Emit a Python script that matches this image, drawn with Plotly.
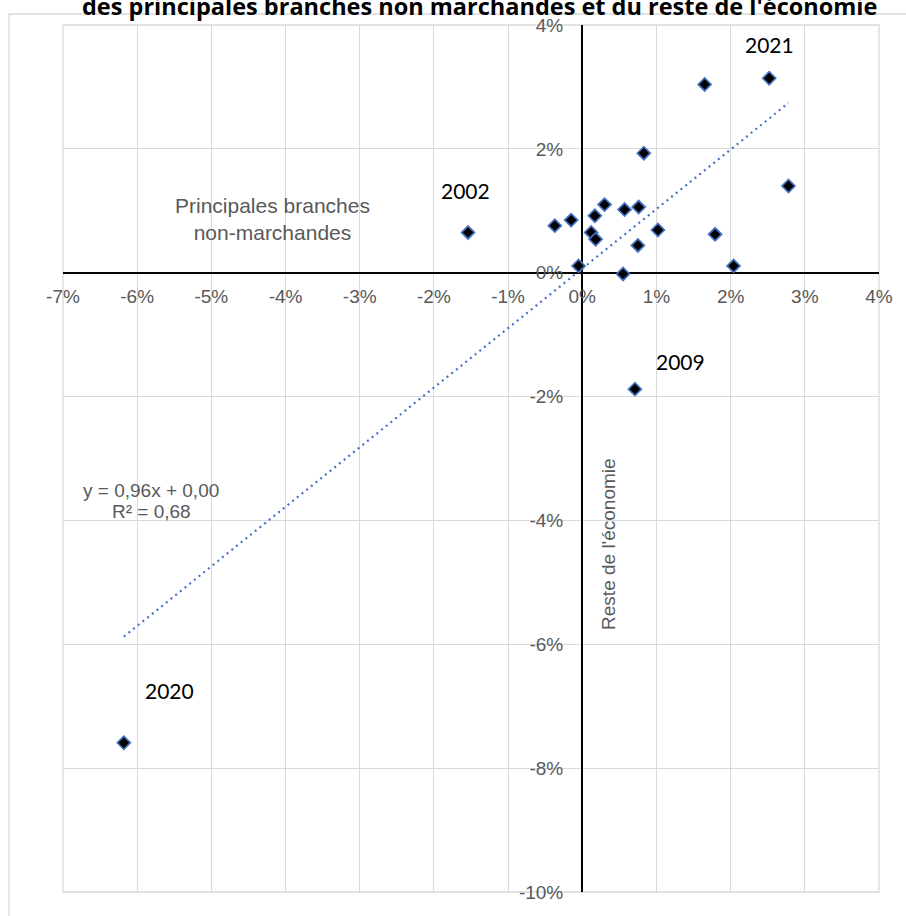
import numpy as np
import plotly.graph_objects as go

# Data (% growth): x = principales branches non-marchandes, y = reste de l'économie
years = [2001, 2002, 2003, 2004, 2005, 2006, 2007, 2008, 2009, 2010, 2011,
         2012, 2013, 2014, 2015, 2016, 2017, 2018, 2019, 2020, 2021]
x_nonmarch = [-0.37, -1.54, -0.15, -0.05, 0.12, 0.18, 0.17, 0.30, 0.71, 0.57, 0.55,
              0.76, 0.75, 0.83, 1.02, 1.65, 1.79, 2.04, 2.78, -6.18, 2.52]
y_reste = [0.76, 0.65, 0.85, 0.11, 0.65, 0.54, 0.92, 1.10, -1.88, 1.02, -0.02,
           1.06, 0.44, 1.93, 0.69, 3.04, 0.62, 0.11, 1.40, -7.59, 3.14]

x_tickvals = [-7, -6, -5, -4, -3, -2, -1, 0, 1, 2, 3, 4]
x_ticktext = ["-7%", "-6%", "-5%", "-4%", "-3%", "-2%", "-1%", "0%", "1%", "2%", "3%", "4%"]
y_tickvals = [4, 2, 0, -2, -4, -6, -8, -10]
y_ticktext = ["4%", "2%", "0%", "-2%", "-4%", "-6%", "-8%", "-10%"]

title_text = "des principales branches non marchandes et du reste de l'économie"
equation_text = "y = 0,96x + 0,00"
r2_text = "R² = 0,68"

# linear trend fitted on the data
xa = np.array(x_nonmarch)
ya = np.array(y_reste)
slope, intercept = np.polyfit(xa, ya, 1)
trend_x = np.array([xa.min(), xa.max()])
trend_y = slope * trend_x + intercept

GRAY = "#595959"
GRID = "#d9d9d9"
BLUE = "#4472C4"
FONT = "Liberation Sans, Arial, sans-serif"
LABEL_FONT = "Lato, Open Sans, sans-serif"

fig = go.Figure()
fig.add_trace(go.Scatter(
    x=trend_x, y=trend_y, mode="lines",
    line=dict(color=BLUE, width=2.2, dash="2px,4px"),
    hoverinfo="skip", showlegend=False))
fig.add_trace(go.Scatter(
    x=x_nonmarch, y=y_reste, mode="markers", text=[str(y) for y in years],
    marker=dict(symbol="diamond", size=10, color="black",
                line=dict(color=BLUE, width=1.7)),
    showlegend=False))

annotations = [
    dict(x=2.53, y=3.69, text="2021"),
    dict(x=-1.57, y=1.32, text="2002"),
    dict(x=1.33, y=-1.44, text="2009"),
    dict(x=-5.57, y=-6.74, text="2020"),
]
anns = []
for a in annotations:
    anns.append(dict(x=a["x"], y=a["y"], xref="x", yref="y", text=a["text"],
                     showarrow=False, font=dict(family=LABEL_FONT, size=21, color="black")))
anns.append(dict(x=-4.17, y=0.87, xref="x", yref="y",
                 text="Principales branches<br>non-marchandes", showarrow=False,
                 font=dict(family=FONT, size=21, color=GRAY)))
anns.append(dict(x=0.36, y=-4.38, xref="x", yref="y", text="Reste de l'économie",
                 textangle=-90, showarrow=False,
                 font=dict(family=FONT, size=19, color=GRAY)))
anns.append(dict(x=-5.81, y=(272.7 - 490) / 61.9, xref="x", yref="y", text=equation_text,
                 showarrow=False, font=dict(family=FONT, size=19, color=GRAY)))
anns.append(dict(x=-5.81, y=(272.7 - 511) / 61.9, xref="x", yref="y", text=r2_text,
                 showarrow=False, font=dict(family=FONT, size=19, color=GRAY)))
anns.append(dict(x=0.511, y=1.022, xref="paper", yref="paper", text="<b>" + title_text + "</b>",
                 showarrow=False, yanchor="middle",
                 font=dict(family="Open Sans, sans-serif", size=23.5, color="black")))

fig.update_layout(
    width=906, height=916, autosize=False,
    margin=dict(l=63, r=27, t=25, b=24),
    paper_bgcolor="white", plot_bgcolor="white",
    annotations=anns,
    shapes=[
        dict(type="rect", xref="paper", yref="paper", x0=-0.0662, x1=1.3, y0=-0.3, y1=1.0127,
             line=dict(color=GRID, width=1.3), layer="below"),
        dict(type="rect", xref="paper", yref="paper", x0=0, x1=1, y0=0, y1=1,
             line=dict(color=GRID, width=1.3), layer="below"),
    ],
    xaxis=dict(range=[-7, 4], tickvals=x_tickvals, ticktext=x_ticktext,
               anchor="free", position=10 / 14, showline=False,
               showgrid=True, gridcolor=GRID, gridwidth=1.3,
               zeroline=True, zerolinecolor="black", zerolinewidth=1.6,
               ticks="", ticklabelstandoff=10,
               tickfont=dict(family=FONT, size=19, color=GRAY)),
    yaxis=dict(range=[-10, 4], tickvals=y_tickvals, ticktext=y_ticktext,
               anchor="free", position=7 / 11, showline=False,
               showgrid=True, gridcolor=GRID, gridwidth=1.3,
               zeroline=True, zerolinecolor="black", zerolinewidth=1.6,
               ticks="", ticklabelstandoff=19,
               tickfont=dict(family=FONT, size=19, color=GRAY)),
)

fig.write_html("out.html", config={"displayModeBar": False},
               post_script="document.body.style.margin='0px';")
